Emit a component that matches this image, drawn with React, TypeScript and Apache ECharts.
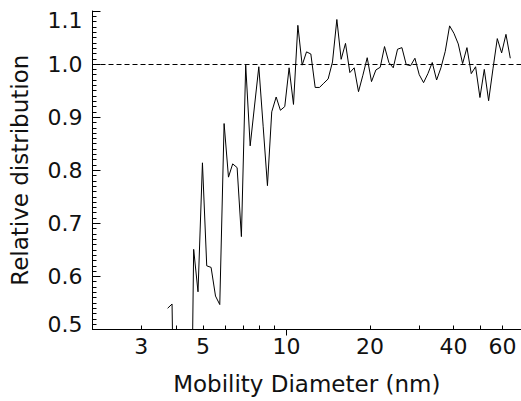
import React, { useEffect, useRef } from "react";
import * as echarts from "echarts";

// Mobility diameter (nm) of each size bin
const diameters = [
  3.73, 3.87, 4.01, 4.16, 4.31, 4.47, 4.63, 4.8, 4.98, 5.16,
  5.35, 5.55, 5.75, 5.96, 6.18, 6.4, 6.64, 6.88, 7.13, 7.4,
  7.67, 7.95, 8.24, 8.54, 8.85, 9.18, 9.51, 9.86, 10.22, 10.6,
  10.99, 11.39, 11.81, 12.24, 12.69, 13.15, 13.63, 14.13, 14.65, 15.19,
  15.74, 16.32, 16.92, 17.54, 18.18, 18.85, 19.54, 20.25, 21.0, 21.77,
  22.56, 23.39, 24.25, 25.13, 26.06, 27.01, 28.0, 29.03, 30.09, 31.19,
  32.33, 33.52, 34.75, 36.02, 37.34, 38.71, 40.12, 41.59, 43.12, 44.7,
  46.33, 48.03, 49.79, 51.62, 53.51, 55.47, 57.5, 59.61, 61.79, 64.05,
];

// Relative distribution for each bin
const relativeDistribution = [
  0.54, 0.548, 0.0, 0.0, 0.0, 0.0, 0.651, 0.571, 0.814, 0.62,
  0.617, 0.563, 0.547, 0.888, 0.787, 0.812, 0.805, 0.675, 0.998, 0.846,
  0.921, 0.995, 0.883, 0.771, 0.91, 0.938, 0.913, 0.92, 0.993, 0.924,
  1.073, 0.998, 1.023, 1.019, 0.956, 0.956, 0.964, 0.972, 1.004, 1.084,
  1.009, 1.039, 0.984, 0.993, 0.948, 0.979, 1.012, 0.967, 0.989, 0.994,
  1.033, 1.003, 0.993, 1.028, 1.031, 0.999, 0.997, 1.011, 0.98, 0.965,
  0.982, 1.003, 0.97, 0.993, 1.024, 1.072, 1.058, 1.038, 1.001, 1.031,
  0.982, 0.995, 0.937, 0.99, 0.931, 0.991, 1.048, 1.021, 1.056, 1.011,
];

const xLabelValues = [3, 5, 10, 20, 40, 60];
const xMinorTickValues = [3, 4, 5, 6, 7, 8, 9, 20, 30, 40, 50, 60, 70];
const xMajorTickValues = [10];
const referenceLevel = 1.0;

const FONT = "'DejaVu Sans'";
const TEXT_COLOR = "#111";

export default function App() {
  const ref = useRef<HTMLDivElement>(null);

  useEffect(() => {
    const chart = echarts.init(ref.current!, null, { renderer: "svg" });
    const axisColor = "#000";
    const textStyle = { fontSize: 22, fontFamily: FONT, color: TEXT_COLOR };
    const nameStyle = { fontSize: 23, fontFamily: FONT, color: TEXT_COLOR };
    chart.setOption({
      animation: false,
      backgroundColor: "#fff",
      grid: { left: 92.5, top: 11, width: 433, height: 318.5 },
      xAxis: [
        {
          type: "log",
          logBase: 10,
          min: 2,
          max: 70,
          position: "bottom",
          name: "Mobility Diameter (nm)",
          nameLocation: "middle",
          nameGap: 43,
          nameTextStyle: nameStyle,
          axisLine: { lineStyle: { color: axisColor, width: 1 } },
          axisTick: {
            inside: true,
            length: 4,
            customValues: xMinorTickValues,
            lineStyle: { color: axisColor, width: 1 },
          },
          axisLabel: {
            customValues: xLabelValues,
            margin: 6,
            ...textStyle,
            formatter: (v: number) => String(Math.round(v)),
          },
          splitLine: { show: false },
          minorTick: { show: false },
          minorSplitLine: { show: false },
        },
        {
          type: "log",
          logBase: 10,
          min: 2,
          max: 70,
          position: "top",
          offset: -318.5,
          axisLine: { show: false },
          axisTick: {
            inside: true,
            length: 6,
            customValues: xMajorTickValues,
            lineStyle: { color: axisColor, width: 1 },
          },
          axisLabel: { show: false },
          splitLine: { show: false },
        },
      ],
      yAxis: {
        type: "value",
        min: 0.5,
        max: 1.1,
        interval: 0.1,
        name: "Relative distribution",
        nameLocation: "middle",
        nameGap: 61,
        nameTextStyle: nameStyle,
        axisLine: { show: true, lineStyle: { color: axisColor, width: 1 } },
        axisTick: { show: true, inside: true, length: 8, lineStyle: { color: axisColor, width: 1 } },
        minorTick: { show: true, splitNumber: 10, length: 4, lineStyle: { color: axisColor, width: 1 } },
        splitLine: { show: false },
        axisLabel: {
          margin: 10,
          ...textStyle,
          showMaxLabel: true,
          formatter: (v: number) => {
            const s = v.toFixed(1);
            if (Math.abs(v - 1.1) < 1e-6) return "{top|" + s + "}";
            if (Math.abs(v - 0.5) < 1e-6) return "{bot|" + s + "}";
            return s;
          },
          rich: {
            top: { ...textStyle, padding: [18, 0, 0, 0] },
            bot: { ...textStyle, padding: [0, 0, 10, 0] },
          },
        },
      },
      series: [
        {
          type: "line",
          data: diameters.map((d, i) => [d, relativeDistribution[i]]),
          symbol: "none",
          showSymbol: false,
          clip: true,
          lineStyle: { color: "#000", width: 1 },
          markLine: {
            silent: true,
            symbol: "none",
            label: { show: false },
            lineStyle: { type: [5, 3], color: "#000", width: 1 },
            data: [{ yAxis: referenceLevel }],
          },
        },
      ],
    });
    return () => chart.dispose();
  }, []);

  return (
    <div
      ref={ref}
      style={{ position: "absolute", left: 0, top: 0, width: 521, height: 401 }}
    />
  );
}
